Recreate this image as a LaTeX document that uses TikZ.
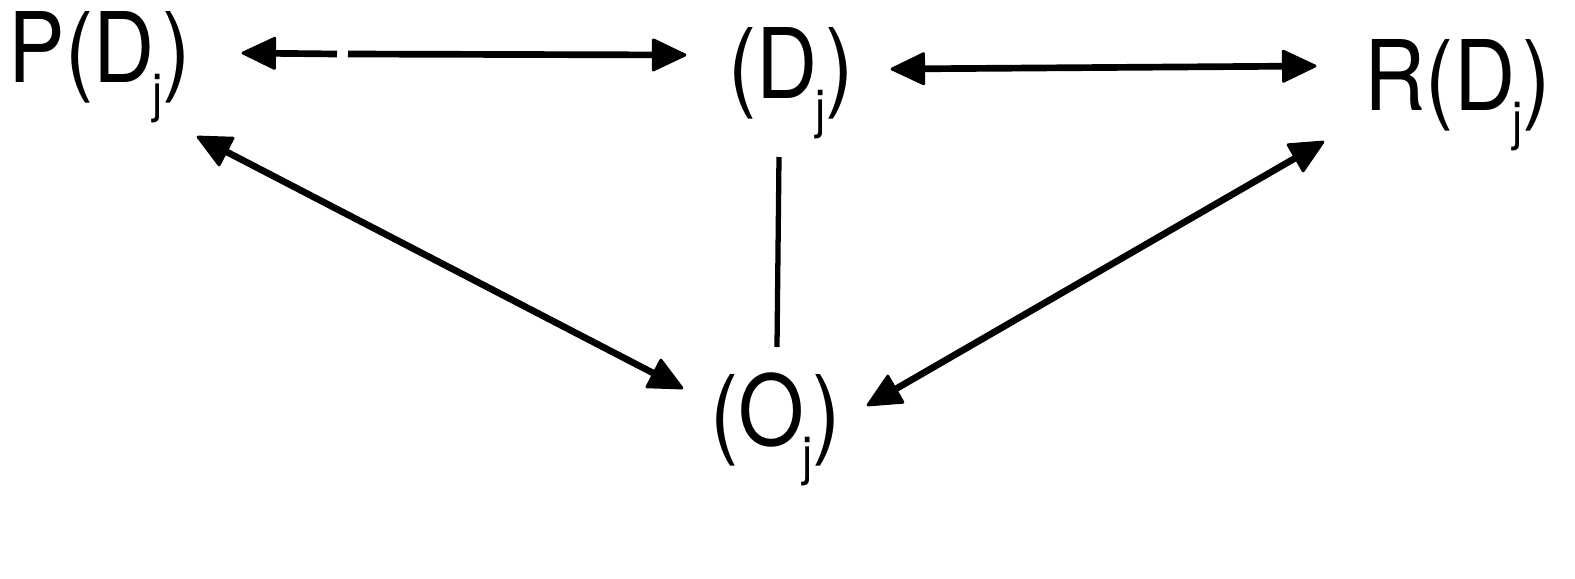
\documentclass[tikz,border=0pt]{standalone}
\usepackage{fontspec}
\setmainfont{TeX Gyre Heros}
\usetikzlibrary{calc}
\newcommand{\sj}{\kern-0.03em\raisebox{-0.3em}{\fontsize{15pt}{15pt}\selectfont j}}
% filled arrow head at #1 pointing away from #2
\newcommand{\headat}[2]{%
  \path ($(#1)!9pt!(#2)$) coordinate (hb);
  \fill[black, draw=black, line width=0.8pt, line join=round]
    (#1) -- ($(hb)!4.3pt!90:(#1)$) -- ($(hb)!4.3pt!-90:(#1)$) -- cycle;
}
\tikzset{
  lbl/.style={inner sep=0pt, anchor=base west, font=\fontsize{27.7pt}{30pt}\selectfont},
  conn/.style={line width=1.9pt, black}
}
\begin{document}
\begin{tikzpicture}[x=0.01cm,y=-0.01cm]
\useasboundingbox (0,0) rectangle (1575,578);
\fill[white] (0,0) rectangle (1575,578);
\node[lbl] (P)  at (8,82)    {\scalebox{0.87}[1]{P(D\sj)}};
\node[lbl] (Dc) at (728,98)  {\scalebox{0.87}[1]{(D\sj)}};
\node[lbl] (R)  at (1364,110){\scalebox{0.87}[1]{R(D\sj)}};
\node[lbl] (O)  at (710,445) {\scalebox{0.87}[1]{(O\sj)}};
% connector ends
\coordinate (pdL) at (243,53);
\coordinate (gapL) at (337,54);
\coordinate (gapR) at (348,54);
\coordinate (pdR) at (685,55);
\coordinate (drL) at (892,69);
\coordinate (drR) at (1315,66);
\coordinate (poU) at (198,137);
\coordinate (poD) at (682,388);
\coordinate (roU) at (1323,142);
\coordinate (roD) at (868,405);
\coordinate (vT) at (779,157);
\coordinate (vB) at (777,347);
\draw[conn,shorten >=5pt] (gapL) -- (pdL);
\draw[conn,shorten >=5pt] (gapR) -- (pdR);
\draw[conn,shorten <=5pt,shorten >=5pt] (drL) -- (drR);
\draw[conn,shorten <=5pt,shorten >=5pt] (poU) -- (poD);
\draw[conn,shorten <=5pt,shorten >=5pt] (roU) -- (roD);
\draw[line width=1.5pt] (vT) -- (vB);
\headat{pdL}{gapL}
\headat{pdR}{gapR}
\headat{drL}{drR}
\headat{drR}{drL}
\headat{poU}{poD}
\headat{poD}{poU}
\headat{roU}{roD}
\headat{roD}{roU}
\end{tikzpicture}
\end{document}
